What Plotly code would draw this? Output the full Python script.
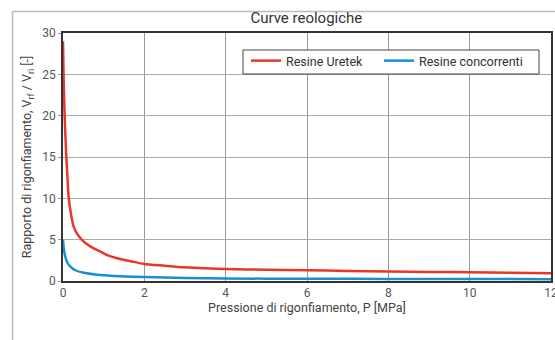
import plotly.graph_objects as go

# Data
pressure_uretek = [0, 0.01, 0.02, 0.04, 0.06, 0.08, 0.1, 0.138, 0.2, 0.26, 0.35, 0.51, 0.7, 0.92,
                   1.1, 1.33, 1.7, 2.0, 2.5, 2.97, 3.5, 4.0, 5.0, 6.0, 7.0, 8.0, 9.0, 10.0, 11.0, 12.0]
ratio_uretek = [29.0, 26.0, 23.5, 20.0, 17.5, 15.2, 13.4, 10.2, 8.0, 6.6, 5.7, 4.76, 4.1, 3.55,
                3.1, 2.75, 2.35, 2.06, 1.85, 1.66, 1.55, 1.45, 1.37, 1.3, 1.22, 1.15, 1.1, 1.05, 1.0, 0.93]

pressure_comp = [0, 0.02, 0.057, 0.1, 0.18, 0.3, 0.51, 0.92, 1.4, 2.0, 3.0, 4.0, 6.0, 8.0, 10.0, 12.0]
ratio_comp = [5.0, 3.9, 2.94, 2.3, 1.73, 1.3, 1.0, 0.73, 0.58, 0.48, 0.36, 0.3, 0.27, 0.25, 0.24, 0.22]

series_names = ["Resine Uretek", "Resine concorrenti"]
x_ticks = [0, 2, 4, 6, 8, 10, 12]
y_ticks = [0, 5, 10, 15, 20, 25, 30]

FONT = "Roboto"
W, H = 555, 340
ML, MR, MT, MB = 63, 4, 33, 59
PW, PH = W - ML - MR, H - MT - MB


def px_x(p):
    return (p - ML) / PW


def px_y(p):
    return (H - MB - p) / PH


fig = go.Figure()
fig.add_trace(go.Scatter(x=pressure_uretek, y=ratio_uretek, mode="lines", name=series_names[0],
                         legend="legend",
                         line=dict(color="#e8362a", width=2.5, shape="spline", smoothing=0.6)))
fig.add_trace(go.Scatter(x=pressure_comp, y=ratio_comp, mode="lines", name=series_names[1],
                         legend="legend2",
                         line=dict(color="#1a8fd0", width=2.5, shape="spline", smoothing=0.6)))

legend_common = dict(orientation="h", xanchor="left", yanchor="top",
                     bgcolor="rgba(0,0,0,0)", borderwidth=0,
                     font=dict(family=FONT, size=12.5, color="#333"), itemwidth=30)

fig.update_layout(
    width=W, height=H,
    margin=dict(l=ML, r=MR, t=MT, b=MB),
    paper_bgcolor="white", plot_bgcolor="white",
    font=dict(family=FONT, color="#444", size=12),
    title=dict(text="Curve reologiche", x=0.552, xanchor="center", y=0.948, yanchor="middle",
               font=dict(family=FONT, size=15, color="#333")),
    showlegend=True,
    legend=dict(x=px_x(246), y=px_y(46), **legend_common),
    legend2=dict(x=px_x(379), y=px_y(46), **legend_common),
    xaxis=dict(range=[0, 12], tickvals=x_ticks, showgrid=True, gridcolor="#999", gridwidth=1,
               showline=True, linecolor="#333", linewidth=1.5, mirror=True,
               ticks="", zeroline=False, automargin=False,
               ticklabeloverflow="allow",
               tickfont=dict(family=FONT, size=12, color="#555"),
               title=dict(text="Pressione di rigonfiamento, P [MPa]", standoff=4,
                          font=dict(family=FONT, size=12.5, color="#444"))),
    yaxis=dict(range=[0, 30], tickvals=y_ticks, showgrid=True, gridcolor="#aaa", gridwidth=1,
               showline=True, linecolor="#333", linewidth=1.5, mirror=True,
               ticks="outside", ticklen=3, tickcolor="#999", zeroline=False, automargin=False,
               tickfont=dict(family=FONT, size=12, color="#555"),
               title=dict(text="Rapporto di rigonfiamento, V<sub>rf</sub> / V<sub>ri</sub> [-]", standoff=8,
                          font=dict(family=FONT, size=12.5, color="#444"))),
)

# legend frame (white box with dark border)
fig.add_shape(type="rect", xref="paper", yref="paper", layer="above",
              x0=px_x(243), x1=px_x(539), y0=px_y(74), y1=px_y(50),
              fillcolor="white", line=dict(color="#444", width=1))

# outer frame lines (top and left) of the card
fig.add_shape(type="line", xref="paper", yref="paper", x0=px_x(12.5), x1=px_x(560), y0=px_y(11.5), y1=px_y(11.5),
              line=dict(color="#bbb", width=1.5))
fig.add_shape(type="line", xref="paper", yref="paper", x0=px_x(12.5), x1=px_x(12.5), y0=px_y(11.5), y1=px_y(345),
              line=dict(color="#bbb", width=1.5))

fig.write_html("out.html")
